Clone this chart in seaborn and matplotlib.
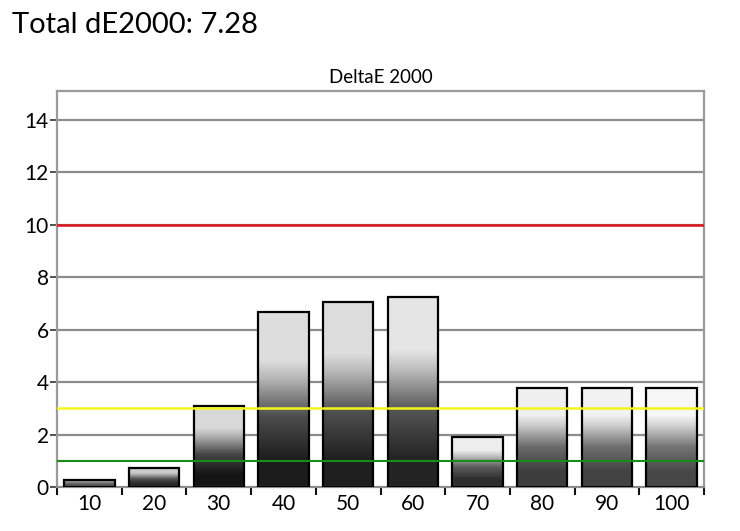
import numpy as np
import pandas as pd
import matplotlib
matplotlib.use("Agg")
import matplotlib.pyplot as plt
import seaborn as sns
from matplotlib.colors import LinearSegmentedColormap

# ---- data ----
categories = ["10", "20", "30", "40", "50", "60", "70", "80", "90", "100"]
delta_e = [0.28, 0.74, 3.09, 6.69, 7.07, 7.25, 1.92, 3.79, 3.79, 3.79]
threshold_red = 10
threshold_yellow = 3
threshold_green = 1
y_ticks = [0, 2, 4, 6, 8, 10, 12, 14]
total_label = "Total dE2000: 7.28"
chart_title = "DeltaE 2000"

# style only: shading of each bar (bottom, top) grey level
bar_bottom = [0.30, 0.15, 0.08, 0.11, 0.12, 0.14, 0.18, 0.24, 0.26, 0.28]
bar_top = [0.62, 0.80, 0.85, 0.87, 0.87, 0.90, 0.93, 0.94, 0.95, 0.97]

sns.set_theme(style="white")
plt.rcParams["font.family"] = ["Lato", "DejaVu Sans"]

df = pd.DataFrame({"cat": categories, "val": delta_e})

fig = plt.figure(figsize=(7.4, 5.31), dpi=100)
ax = fig.add_axes([57 / 740, 44 / 531, (704 - 57) / 740, (487 - 91) / 531])

sns.barplot(data=df, x="cat", y="val", ax=ax, width=0.78,
            facecolor="none", edgecolor="black", linewidth=1.6, zorder=3)

ax.set_ylim(0, 15.1)
ax.set_xlim(-0.5, len(categories) - 0.5)

# gradient fill in each bar
for i, p in enumerate(ax.patches):
    x0 = p.get_x()
    w = p.get_width()
    h = p.get_height()
    b, t = bar_bottom[i], bar_top[i]
    levels = [(0.0, b), (0.15, b), (0.40, b + 0.25 * (t - b)),
              (0.62, b + 0.80 * (t - b)), (0.72, t), (1.0, t)]
    cmap = LinearSegmentedColormap.from_list(
        f"g{i}", [(pos, (v, v, v)) for pos, v in levels])
    grad = np.linspace(0, 1, 256).reshape(-1, 1)
    im = ax.imshow(grad, extent=[x0, x0 + w, 0, h], origin="lower",
                   cmap=cmap, vmin=0, vmax=1, aspect="auto", zorder=2,
                   interpolation="bicubic")
    im.set_clip_path(p)
    p.set_zorder(3)

ax.set_aspect("auto")
ax.set_xlim(-0.5, len(categories) - 0.5)
ax.set_ylim(0, 15.1)

# threshold lines
ax.axhline(threshold_red, color="#e0141e", lw=1.8, zorder=4)
ax.axhline(threshold_yellow, color="#f5f51e", lw=1.8, zorder=4)
ax.axhline(threshold_green, color="#1a8a1a", lw=1.5, zorder=4)

# grid
ax.set_yticks(y_ticks)
ax.set_yticklabels([str(v) for v in y_ticks])
for v in y_ticks[1:]:
    ax.axhline(v, color="#8c8c8c", lw=1.6, zorder=1)

ax.set_xticks(range(len(categories)))
ax.set_xticklabels(categories)
ax.set_xticks(np.arange(-0.5, len(categories), 1.0), minor=True)
ax.tick_params(axis="x", which="major", length=0, labelsize=15, pad=5,
               colors="black")
ax.tick_params(axis="x", which="minor", length=6, width=1.5,
               color="#111111", direction="out", bottom=True)
ax.tick_params(axis="y", length=5, width=1.2, color="#333333",
               labelsize=15, pad=1, left=True, direction="out",
               labelcolor="black")

for s in ax.spines.values():
    s.set_color("#9a9a9a")
    s.set_linewidth(1.6)
ax.spines["bottom"].set_color("#8c8c8c")

ax.set_xlabel("")
ax.set_ylabel("")
ax.set_title(chart_title, fontsize=13.5, pad=6, color="black")

fig.text(12 / 740, 1 - 25 / 531, total_label, fontsize=21, va="center",
         ha="left", color="black")

fig.savefig("out.png", dpi=100)
